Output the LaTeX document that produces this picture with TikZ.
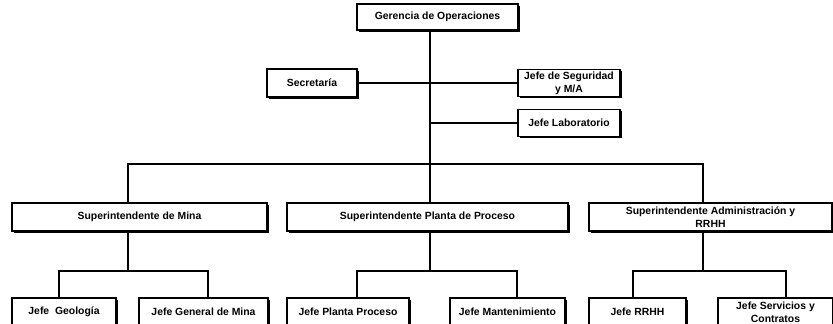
\documentclass[tikz,border=0pt]{standalone}
\usepackage{fontspec}
\setmainfont{Liberation Sans}
\usetikzlibrary{shadows}
\begin{document}
\begin{tikzpicture}[x=1pt,y=-1pt,
  box/.style={draw, line width=1.1pt, fill=white, inner sep=1pt, align=center,
    font=\fontsize{10.4}{13}\selectfont\bfseries,
    drop shadow={shadow xshift=1.5pt, shadow yshift=-1.5pt, fill=black, opacity=1}},
  conn/.style={line width=2pt}]
\useasboundingbox (0,0) rectangle (833,324);
% top level
\node[box, minimum width=161pt, minimum height=26pt] (ger) at (437.5,17) {Gerencia de Operaciones};
\node[box, minimum width=90pt, minimum height=28pt] (sec) at (312,83) {Secretaría};
\node[box, minimum width=102pt, minimum height=27pt] (seg) at (569,83) {Jefe de Seguridad\\y M/A};
\node[box, minimum width=102pt, minimum height=27pt] (lab) at (569,123) {Jefe Laboratorio};
% superintendents
\node[box, minimum width=255pt, minimum height=28pt] (mina) at (139.5,217) {Superintendente de Mina};
\node[box, minimum width=281pt, minimum height=28pt] (planta) at (427.5,217) {Superintendente Planta de Proceso};
\node[box, minimum width=243pt, minimum height=28pt] (admin) at (710.5,217) {Superintendente Administración y\\RRHH};
% bottom level
\node[box, minimum width=104pt, minimum height=28pt] (geo) at (64,312) {Jefe\ \ Geología};
\node[box, minimum width=129pt, minimum height=28pt] (gen) at (203.5,312) {Jefe General de Mina};
\node[box, minimum width=122pt, minimum height=28pt] (pp) at (348,312) {Jefe Planta Proceso};
\node[box, minimum width=115pt, minimum height=28pt] (mant) at (507.5,312) {Jefe Mantenimiento};
\node[box, minimum width=97pt, minimum height=28pt] (rrhh) at (637.5,312) {Jefe RRHH};
\node[box, minimum width=115pt, minimum height=28pt] (serv) at (775.5,312) {Jefe Servicios y\\Contratos};
% coordinates
\coordinate (t) at (430,164);
\coordinate (tl) at (128,164);
\coordinate (tr) at (703,164);
\coordinate (mb) at (128,271);
\coordinate (pb) at (430,271);
\coordinate (ab) at (703,271);
% connectors
\draw[conn] (ger.south -| t) -- (planta.north -| t);
\draw[conn] (sec.east) -- (seg.west);
\draw[conn] (lab.west) -- (lab.west -| t);
\draw[conn] (mina.north -| tl) |- (tr) -- (admin.north -| tr);
% mina branch
\draw[conn] (mina.south -| mb) -- (mb);
\draw[conn] (geo.north -| 59,0) |- (mb) -| (gen.north -| 208,0);
% planta branch
\draw[conn] (planta.south -| pb) -- (pb);
\draw[conn] (pp.north -| 357,0) |- (pb) -| (mant.north -| 517,0);
% admin branch
\draw[conn] (admin.south -| ab) -- (ab);
\draw[conn] (rrhh.north -| 633,0) |- (ab) -| (serv.north -| 786,0);
\end{tikzpicture}
\end{document}
